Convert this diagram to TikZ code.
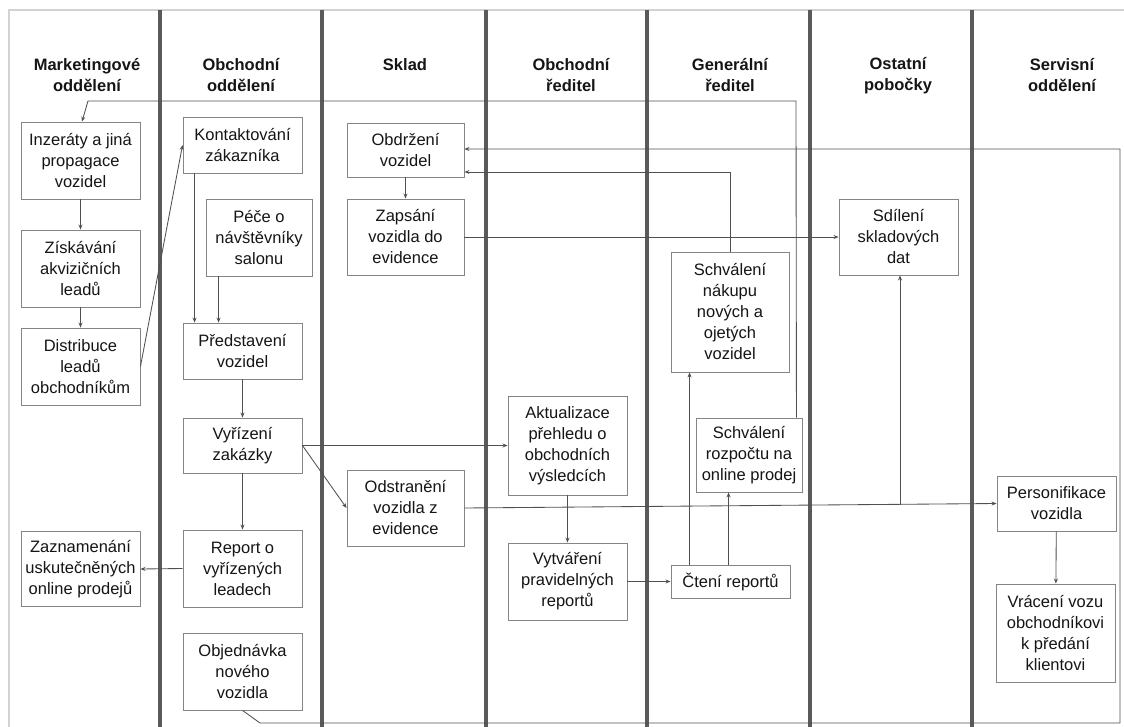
\documentclass[tikz,border=0pt]{standalone}
\usepackage{fontspec}
\setmainfont{Liberation Sans}
\usetikzlibrary{arrows.meta}
\definecolor{framegray}{HTML}{D2D2D2}
\definecolor{lanegray}{HTML}{5A5A5A}
\definecolor{boxgray}{HTML}{858585}
\definecolor{linegray}{HTML}{505050}
\definecolor{inkc}{HTML}{151515}
\begin{document}
\begin{tikzpicture}[x=1pt,y=-1pt,
  frameline/.style={draw=framegray,line width=1.4pt},
  laneline/.style={draw=lanegray,line width=4pt},
  header/.style={align=center,text=inkc,font=\fontsize{16.5}{21}\selectfont\bfseries},
  box/.style={draw=boxgray,line width=0.9pt,align=center,inner sep=0pt,text=inkc,
    font=\fontsize{16.5}{21}\selectfont},
  conn/.style={draw=linegray,line width=0.85pt},
  arr/.style={conn,-{Stealth[length=5pt,width=4pt]}}]
\useasboundingbox (0,0) rectangle (1124,727);
\fill[white] (0,0) rectangle (1124,727);

% outer frame
\draw[frameline] (9,727) -- (9,10) -- (1124,10);

% swimlane dividers
\foreach \x in {160,322,486,647,810,972}
  \draw[laneline] (\x,10) -- (\x,727);

% lane headers
\node[header] (h1) at (87,75.5)   {Marketingové\\oddělení};
\node[header] (h2) at (241,75.5)  {Obchodní\\oddělení};
\node[header] (h3) at (405,65)    {Sklad};
\node[header] (h4) at (571,75.5)  {Obchodní\\ředitel};
\node[header] (h5) at (730,75.5)  {Generální\\ředitel};
\node[header] (h6) at (898,75.5)  {Ostatní\\pobočky};
\node[header] (h7) at (1062,75.5) {Servisní\\oddělení};

% Marketingové oddělení
\node[box,minimum width=119pt,minimum height=77pt] (inz) at (80.5,160.5) {Inzeráty a jiná\\propagace\\vozidel};
\node[box,minimum width=119pt,minimum height=77pt] (zis) at (80.5,268.5) {Získávání\\akvizičních\\leadů};
\node[box,minimum width=119pt,minimum height=77pt] (dis) at (80.5,366.5) {Distribuce\\leadů\\obchodníkům};
\node[box,minimum width=119pt,minimum height=75pt] (zaz) at (80.5,569) {Zaznamenání\\uskutečněných\\online prodejů};

% Obchodní oddělení
\node[box,minimum width=119pt,minimum height=56pt] (kon) at (242.5,145) {Kontaktování\\zákazníka};
\node[box,minimum width=106pt,minimum height=77pt] (pec) at (259,237.5) {Péče o\\návštěvníky\\salonu};
\node[box,minimum width=119pt,minimum height=56pt] (pre) at (242.5,351) {Představení\\vozidel};
\node[box,minimum width=119pt,minimum height=55pt] (vyr) at (242.5,445.5) {Vyřízení\\zakázky};
\node[box,minimum width=119pt,minimum height=77pt] (rep) at (242.5,568.5) {Report o\\vyřízených\\leadech};
\node[box,minimum width=119pt,minimum height=77pt] (obj) at (242.5,671.5) {Objednávka\\nového\\vozidla};

% Sklad
\node[box,minimum width=117pt,minimum height=54pt] (obd) at (405.5,150) {Obdržení\\vozidel};
\node[box,minimum width=117pt,minimum height=76pt] (zap) at (405.5,237) {Zapsání\\vozidla do\\evidence};
\node[box,minimum width=117pt,minimum height=76pt] (ods) at (405.5,508) {Odstranění\\vozidla z\\evidence};

% Obchodní ředitel
\node[box,minimum width=119pt,minimum height=99pt] (akt) at (567.5,445.5) {Aktualizace\\přehledu o\\obchodních\\výsledcích};
\node[box,minimum width=119pt,minimum height=77pt] (vyt) at (567.5,581.5) {Vytváření\\pravidelných\\reportů};

% Generální ředitel
\node[box,minimum width=118pt,minimum height=120pt] (snk) at (730,312) {Schválení\\nákupu\\nových a\\ojetých\\vozidel};
\node[box,minimum width=106pt,minimum height=74pt] (sro) at (749,455) {Schválení\\rozpočtu na\\online prodej};
\node[box,minimum width=119pt,minimum height=33pt] (cte) at (730.5,581.5) {Čtení reportů};

% Ostatní pobočky
\node[box,minimum width=119pt,minimum height=76pt] (sdi) at (898.5,237) {Sdílení\\skladových\\dat};

% Servisní oddělení
\node[box,minimum width=119pt,minimum height=55pt] (per) at (1056.5,503.5) {Personifikace\\vozidla};
\node[box,minimum width=119pt,minimum height=98pt] (vra) at (1055.5,633) {Vrácení vozu\\obchodníkovi\\k předání\\klientovi};

% routing points
\coordinate (br) at (900,505);
\coordinate (b1) at (260,723);
\coordinate (b2) at (1120,723);
\coordinate (b3) at (1120,149);
\coordinate (t1) at (796,101);
\coordinate (t2) at (88,101);

% flows
\draw[arr] (inz) -- (zis);
\draw[arr] (zis) -- (dis);
\draw[arr] (dis.east) -- (kon.west);
\draw[arr] ([xshift=12pt]kon.south west) -- ([xshift=12pt]pre.north west);
\draw[arr] ([xshift=13pt]pec.south west) -- ([xshift=36pt]pre.north west);
\draw[arr] (pre) -- (vyr);
\draw[arr] (vyr) -- (rep);
\draw[arr] (rep.west) -- (zaz.east);
\draw[arr] (vyr.east) -- (akt.west);
\draw[arr] (vyr.east) -- (ods.west);
\draw[arr] (obd) -- (zap);
\draw[arr] (zap.east) -- (sdi.west);
\draw[arr] (ods.east) -- (per.west);
\draw[arr] (br) -- (br |- sdi.south);
\draw[arr] (per) -- (vra);
\draw[arr] (akt) -- (vyt);
\draw[arr] (vyt.east) -- (cte.west);
\draw[arr] ([xshift=19pt]cte.north west) -- ([xshift=19pt]snk.south west);
\draw[arr] ([xshift=58pt]cte.north west) -- ([xshift=58pt]cte.north west |- sro.south);
\draw[arr] (snk.north) |- ([yshift=-22pt]obd.east);
\draw[arr] (obj.south) -- (b1) -- (b2) -- (b3) -- (b3 -| obd.east);
\draw[arr] ([xshift=-6pt]sro.north east) -- (t1) -- (t2) -- ([xshift=1.5pt]inz.north);
\end{tikzpicture}
\end{document}
